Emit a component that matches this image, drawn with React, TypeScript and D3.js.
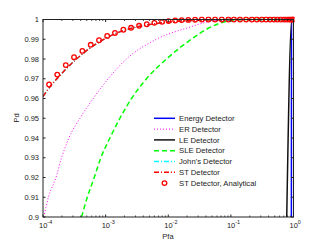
import React, { useEffect, useRef } from "react";
import * as d3 from "d3";

// Pd vs Pfa
const erPfa = [1.03e-4, 1.22e-4, 1.61e-4, 1.98e-4, 2.59e-4, 3.89e-4, 6.34e-4, 1.1e-3, 2.15e-3, 6.47e-3, 1.95e-2, 5.86e-2, 0.18];
const erPd = [0.9, 0.91, 0.92, 0.93, 0.94, 0.95, 0.96, 0.97, 0.98, 0.99, 0.9956, 0.9995, 1.0];

const slePfa = [4.13e-4, 5.09e-4, 6.58e-4, 8.39e-4, 1.17e-3, 1.69e-3, 2.59e-3, 4.49e-3, 9.35e-3, 0.0234, 0.0406, 0.0845, 0.176, 1];
const slePd = [0.9, 0.91, 0.92, 0.93, 0.94, 0.95, 0.96, 0.97, 0.98, 0.99, 0.995, 0.999, 1.0, 1.0];

const stPfa = [1e-4, 1.26e-4, 1.78e-4, 3.16e-4, 5.62e-4, 1e-3, 1.78e-3, 3.16e-3, 5.62e-3, 0.01, 0.0178, 0.0316, 0.1, 1];
const stPd = [0.961, 0.9655, 0.971, 0.979, 0.9855, 0.9905, 0.994, 0.9962, 0.9977, 0.9987, 0.9993, 0.9997, 0.99995, 1.0];
const johnPfa = stPfa;
const johnPd = stPd;

const energyPfa = [0.918, 0.925, 0.93, 1];
const energyPd = [0.85, 0.9, 1.0, 1.0];

const lePfa = [0.78, 0.94, 1];
const lePd = [0.9, 1.0, 1.0];

const anaPfa = [1.25e-4, 1.69e-4, 2.31e-4, 3.13e-4, 4.25e-4, 5.78e-4, 7.85e-4, 1.06e-3, 1.41e-3, 1.92e-3,
  2.55e-3, 3.42e-3, 4.54e-3, 6.0e-3, 7.96e-3, 0.0101, 0.0129, 0.0164, 0.0209, 0.0268, 0.0343, 0.0438, 0.056,
  0.0716, 0.0912, 0.112, 0.14, 0.175, 0.216, 0.259, 0.312, 0.365, 0.423, 0.49, 0.553, 0.627, 0.708, 0.782,
  0.861, 0.916, 0.968, 1.0];
const anaPd = [0.9671, 0.9721, 0.9769, 0.9809, 0.9841, 0.9872, 0.9895, 0.9917, 0.9932, 0.9948, 0.9958, 0.9968,
  0.9976, 0.9983, 0.9988, 0.9992, 0.9995, 0.9997, 0.9998, 0.9999, 1, 1, 1, 1, 1, 1, 1, 1, 1, 1, 1, 1, 1, 1, 1,
  1, 1, 1, 1, 1, 1, 1];

const yTicks = [0.9, 0.91, 0.92, 0.93, 0.94, 0.95, 0.96, 0.97, 0.98, 0.99, 1];
const yTickLabels = ["0.9", "0.91", "0.92", "0.93", "0.94", "0.95", "0.96", "0.97", "0.98", "0.99", "1"];
const xTicks = [1e-4, 1e-3, 1e-2, 1e-1, 1];
const xTickExps = ["-4", "-3", "-2", "-1", "0"];

const legendNames = ["Energy Detector", "ER Detector", "LE Detector", "SLE Detector", "John's Detector", "ST Detector", "ST Detector, Analytical"];

const App = () => {
  const svgRef = useRef<SVGSVGElement>(null);

  useEffect(() => {
    const width = 325, height = 245;
    const left = 43, right = 293.5, top = 19.5, bottom = 217;
    const font = "Liberation Sans, Arial, sans-serif";

    const svg = d3.select(svgRef.current).attr("width", width).attr("height", height);
    svg.selectAll("*").remove();

    const x = d3.scaleLog().domain([1e-4, 1]).range([left, right]);
    const y = d3.scaleLinear().domain([0.9, 1]).range([bottom, top]);

    svg.append("rect").attr("width", width).attr("height", height).attr("fill", "white");

    svg.append("defs").append("clipPath").attr("id", "plotclip")
      .append("rect").attr("x", left).attr("y", top - 3).attr("width", right - left + 1).attr("height", bottom - top + 3);

    const series = [
      { pfa: energyPfa, pd: energyPd, color: "#0000ff", dash: null, w: 1.5 },
      { pfa: erPfa, pd: erPd, color: "#ff00ff", dash: "1,2", w: 1 },
      { pfa: lePfa, pd: lePd, color: "#111111", dash: null, w: 1.5 },
      { pfa: slePfa, pd: slePd, color: "#00ff00", dash: "5,3", w: 1.5 },
      { pfa: johnPfa, pd: johnPd, color: "#00ffff", dash: "5,2,1,2", w: 1.5 },
      { pfa: stPfa, pd: stPd, color: "#ff0000", dash: "5,2,1,2", w: 1.5 },
    ];

    const line = d3.line<number>()
      .x(d => x(d[0]))
      .y(d => y(d[1]))
      .curve(d3.curveMonotoneX);

    const plot = svg.append("g").attr("clip-path", "url(#plotclip)");
    series.forEach(s => {
      const pts = s.pfa.map((p, i) => [p, s.pd[i]]);
      plot.append("path")
        .attr("d", line(pts as any))
        .attr("fill", "none")
        .attr("stroke", s.color)
        .attr("stroke-width", s.w)
        .attr("stroke-dasharray", s.dash);
    });

    plot.selectAll("circle.ana")
      .data(anaPfa.map((p, i) => [p, anaPd[i]]))
      .enter()
      .append("circle")
      .attr("cx", d => x(d[0]))
      .attr("cy", d => y(d[1]))
      .attr("r", 2.3)
      .attr("fill", "none")
      .attr("stroke", "#ff0000")
      .attr("stroke-width", 1.3);

    // axes box
    const axisColor = "#222222";
    svg.append("rect")
      .attr("x", left).attr("y", top)
      .attr("width", right - left).attr("height", bottom - top)
      .attr("fill", "none").attr("stroke", axisColor).attr("stroke-width", 1);

    // y ticks, both sides, inward
    yTicks.forEach((t, i) => {
      svg.append("line").attr("x1", left).attr("x2", left + 2.5).attr("y1", y(t)).attr("y2", y(t)).attr("stroke", axisColor);
      svg.append("line").attr("x1", right).attr("x2", right - 2.5).attr("y1", y(t)).attr("y2", y(t)).attr("stroke", axisColor);
      svg.append("text")
        .attr("x", left - 4).attr("y", y(t) + 2.6)
        .attr("text-anchor", "end")
        .attr("font-family", font).attr("font-size", 7.5).attr("fill", "#222")
        .text(yTickLabels[i]);
    });

    // x ticks: majors + minors on bottom and top
    const minor: number[] = [];
    for (let e = -4; e < 0; e++) for (let m = 2; m <= 9; m++) minor.push(m * Math.pow(10, e));
    minor.forEach(t => {
      svg.append("line").attr("x1", x(t)).attr("x2", x(t)).attr("y1", bottom).attr("y2", bottom - 1.5).attr("stroke", axisColor).attr("stroke-width", 0.8);
      svg.append("line").attr("x1", x(t)).attr("x2", x(t)).attr("y1", top).attr("y2", top + 1.5).attr("stroke", axisColor).attr("stroke-width", 0.8);
    });
    xTicks.forEach((t, i) => {
      svg.append("line").attr("x1", x(t)).attr("x2", x(t)).attr("y1", bottom).attr("y2", bottom - 2.5).attr("stroke", axisColor);
      svg.append("line").attr("x1", x(t)).attr("x2", x(t)).attr("y1", top).attr("y2", top + 2.5).attr("stroke", axisColor);
      const txt = svg.append("text")
        .attr("x", x(t) - 4).attr("y", 228)
        .attr("font-family", font).attr("font-size", 7.5).attr("fill", "#222");
      txt.append("tspan").text("10");
      txt.append("tspan").attr("dy", -4).attr("font-size", 5.5).text(xTickExps[i]);
    });

    svg.append("text")
      .attr("x", 168).attr("y", 239)
      .attr("text-anchor", "middle")
      .attr("font-family", font).attr("font-size", 7.5).attr("fill", "#222")
      .text("Pfa");

    svg.append("text")
      .attr("transform", "translate(19,118) rotate(-90)")
      .attr("text-anchor", "middle")
      .attr("font-family", font).attr("font-size", 7.5).attr("fill", "#222")
      .text("Pd");

    // legend
    const lx = 154, ly = 118.3, step = 10.8;
    legendNames.forEach((name, i) => {
      const cy = ly + i * step;
      if (i < series.length) {
        const s = series[i];
        svg.append("line")
          .attr("x1", lx).attr("x2", lx + 21).attr("y1", cy).attr("y2", cy)
          .attr("stroke", s.color).attr("stroke-width", s.w)
          .attr("stroke-dasharray", s.dash);
      } else {
        svg.append("circle").attr("cx", lx + 10.5).attr("cy", cy).attr("r", 2.3)
          .attr("fill", "none").attr("stroke", "#ff0000").attr("stroke-width", 1.3);
      }
      svg.append("text")
        .attr("x", lx + 25).attr("y", cy + 2.7)
        .attr("font-family", font).attr("font-size", 7.7).attr("fill", "#222")
        .text(name);
    });
  }, []);

  return <svg ref={svgRef} style={{ position: "absolute", left: 0, top: 0 }}></svg>;
};

export default App;
